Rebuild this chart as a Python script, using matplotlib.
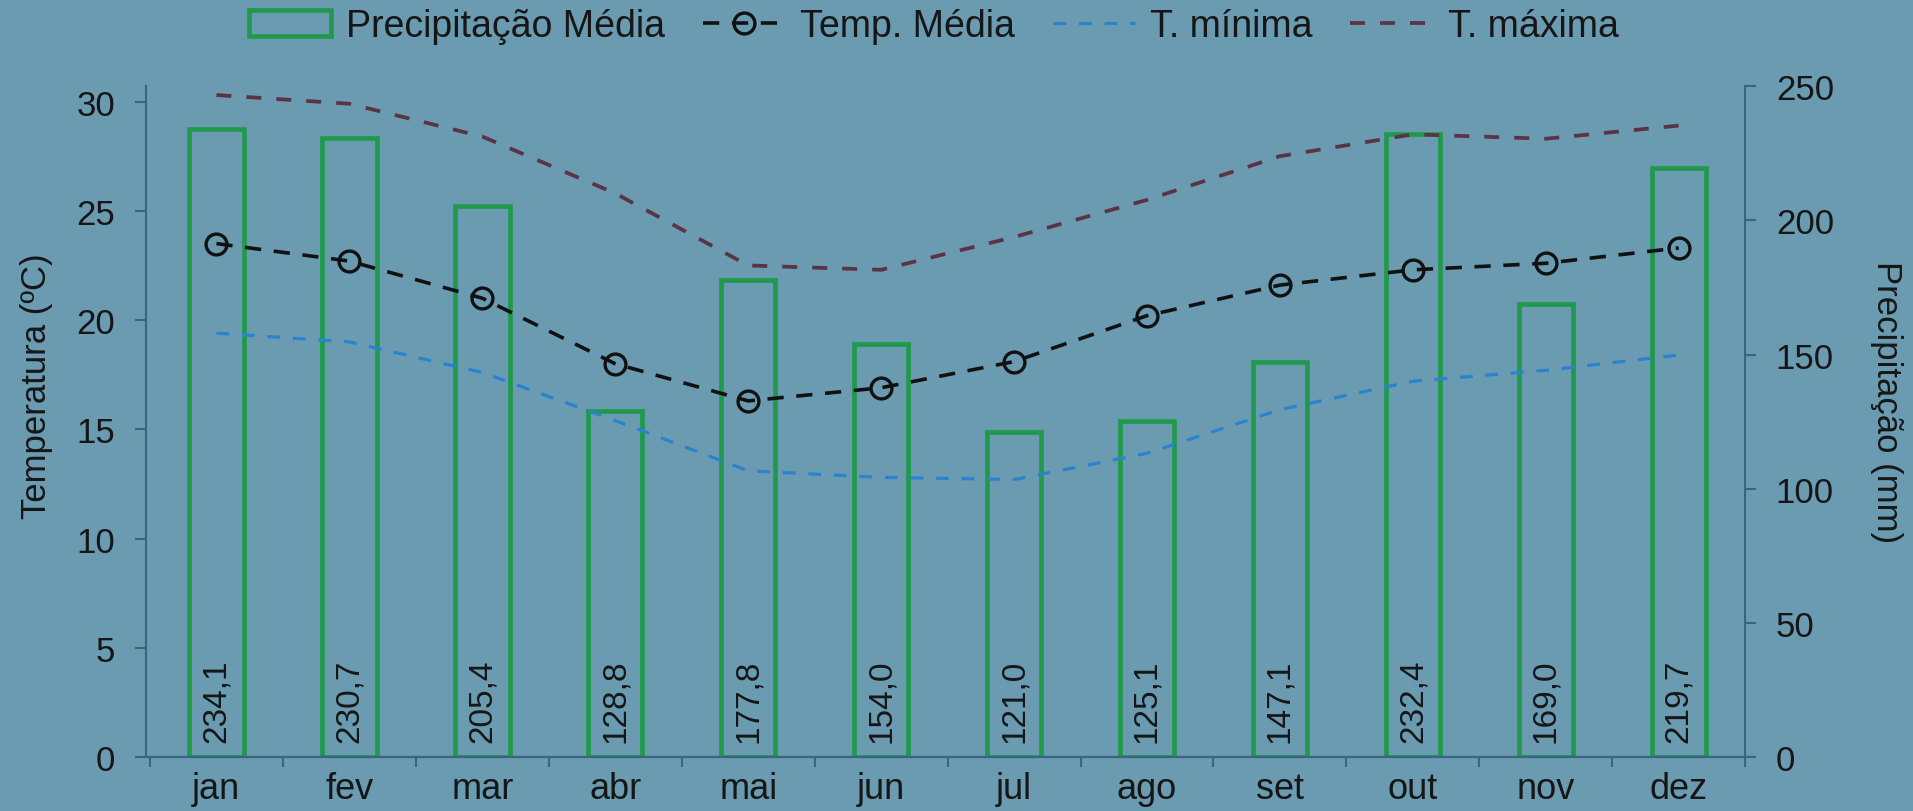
import matplotlib.pyplot as plt
import numpy as np

plt.rcParams['font.family'] = ['Liberation Sans', 'DejaVu Sans']

# monthly data
months = ["jan", "fev", "mar", "abr", "mai", "jun", "jul", "ago", "set", "out", "nov", "dez"]
precip = [234.1, 230.7, 205.4, 128.8, 177.8, 154.0, 121.0, 125.1, 147.1, 232.4, 169.0, 219.7]
t_media = [23.5, 22.7, 21.0, 18.0, 16.3, 16.9, 18.1, 20.2, 21.6, 22.3, 22.6, 23.3]
t_min = [19.4, 19.0, 17.6, 15.4, 13.1, 12.8, 12.7, 13.9, 15.9, 17.2, 17.7, 18.4]
t_max = [30.3, 29.9, 28.4, 25.8, 22.5, 22.3, 23.8, 25.5, 27.5, 28.5, 28.3, 28.9]

bg = "#6a9bb1"
txt = "#161616"
spine_c = "#3a6482"

fig = plt.figure(figsize=(19.13, 8.12), dpi=100, facecolor=bg)
ax = fig.add_axes([0.0763, 0.0665, 0.836, 0.826])
ax2 = ax.twinx()
ax.set_zorder(ax2.get_zorder() + 1)
ax.patch.set_visible(False)
ax2.set_facecolor(bg)

x = np.arange(len(months))

# precipitation bars (hollow, green edge) on the right axis
ax2.bar(x, precip, width=0.41, facecolor="none", edgecolor="#1f9a4c",
        linewidth=3.4, label="Precipitação Média")
for xi, v in zip(x, precip):
    ax2.annotate(f"{v:.1f}".replace(".", ","), (xi, 0), xytext=(0, 11),
                 textcoords="offset points", rotation=90, ha="center", va="bottom",
                 fontsize=24, color=txt)

# temperature lines
ax.plot(x, t_media, color="#111111", linestyle=(0, (4.5, 3.5)), linewidth=2.6,
        marker="o", markersize=15, markerfacecolor="none", markeredgewidth=2.4,
        label="Temp. Média")
ax.plot(x, t_min, color="#2b82cf", linestyle=(0, (4, 4)), linewidth=2.3, label="T. mínima")
ax.plot(x, t_max, color="#5a3444", linestyle=(0, (4, 4)), linewidth=2.7, label="T. máxima")

ax.set_xlim(-0.53, 11.5)
ax.set_ylim(0, 30.7)
ax2.set_ylim(0, 250)
ax.set_yticks(range(0, 31, 5))
ax2.set_yticks(range(0, 251, 50))

ax.set_xticks(x)
ax.set_xticklabels(months)
ax.set_xticks(np.arange(-0.5, 12, 1), minor=True)
ax.tick_params(axis="x", which="major", length=0, labelsize=26, labelcolor=txt, pad=10)
ax.tick_params(axis="x", which="minor", length=7, width=1.5, color=spine_c, direction="out")
ax.tick_params(axis="y", length=8, width=1.5, color=spine_c, labelsize=25, labelcolor=txt, pad=14)
ax2.tick_params(axis="y", length=8, width=1.5, color=spine_c, labelsize=25, labelcolor=txt, pad=14)

for a in (ax, ax2):
    a.spines["top"].set_visible(False)
    for s in ("left", "right", "bottom"):
        a.spines[s].set_color(spine_c)
        a.spines[s].set_linewidth(1.5)
ax.spines["right"].set_visible(False)
ax2.spines["left"].set_visible(False)

ax.set_ylabel("Temperatura (ºC)", fontsize=25, color=txt)
ax2.set_ylabel("Precipitação (mm)", fontsize=25, color=txt, rotation=-90, va="bottom")
ax.yaxis.set_label_coords(-0.058, 0.555)
ax2.yaxis.set_label_coords(1.078, 0.53)

h1, l1 = ax2.get_legend_handles_labels()
h2, l2 = ax.get_legend_handles_labels()
fig.legend(h1 + h2, l1 + l2, loc="upper center", bbox_to_anchor=(0.488, 1.03), ncol=4,
           frameon=False, fontsize=27, handlelength=2.2, handletextpad=0.4,
           columnspacing=1.0, labelcolor=txt)

fig.savefig("out.png", dpi=100, facecolor=bg)
